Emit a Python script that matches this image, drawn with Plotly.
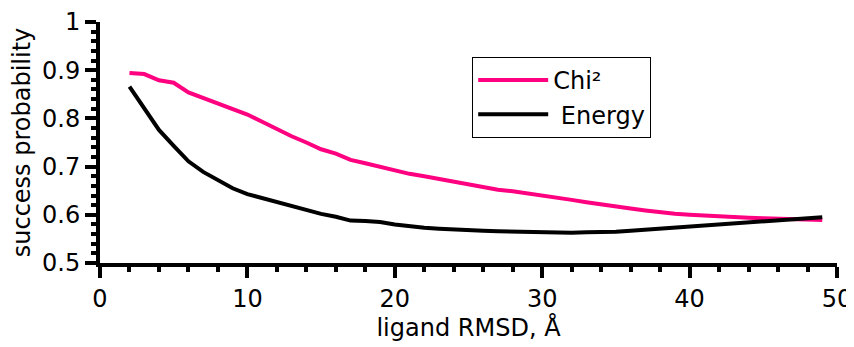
import plotly.graph_objects as go

rmsd = list(range(2, 50))
chi2 = [0.894, 0.892, 0.879, 0.874, 0.854, 0.842, 0.832, 0.819, 0.808, 0.793,
        0.777, 0.763, 0.750, 0.736, 0.727, 0.714, 0.707, 0.700, 0.691, 0.685,
        0.680, 0.674, 0.668, 0.662, 0.656, 0.652, 0.649, 0.645, 0.641, 0.636,
        0.631, 0.626, 0.621, 0.617, 0.613, 0.609, 0.605, 0.602, 0.600, 0.598,
        0.596, 0.595, 0.594, 0.593, 0.592, 0.591, 0.590, 0.589]
energy = [0.866, 0.822, 0.776, 0.743, 0.711, 0.689, 0.671, 0.655, 0.643, 0.635,
          0.626, 0.617, 0.610, 0.602, 0.596, 0.588, 0.587, 0.585, 0.580, 0.576,
          0.573, 0.571, 0.569, 0.568, 0.567, 0.566, 0.565, 0.565, 0.564, 0.564,
          0.563, 0.564, 0.564, 0.565, 0.567, 0.569, 0.571, 0.573, 0.576, 0.578,
          0.581, 0.583, 0.585, 0.587, 0.589, 0.591, 0.593, 0.595]

x_ticks = [0, 10, 20, 30, 40, 50]
y_ticks = [0.5, 0.6, 0.7, 0.8, 0.9, 1.0]
y_tick_labels = ["0.5", "0.6", "0.7", "0.8", "0.9", "1"]

FONT = "DejaVu Sans"

fig = go.Figure()
fig.add_trace(go.Scatter(x=rmsd, y=chi2, mode="lines", name="Chi²",
                         line=dict(color="#ff0080", width=4)))
fig.add_trace(go.Scatter(x=rmsd, y=energy, mode="lines", name=" Energy",
                         line=dict(color="black", width=4)))

axis_common = dict(showline=True, linecolor="black", linewidth=4, ticks="outside",
                   tickwidth=4, ticklen=11, tickcolor="black", showgrid=False,
                   zeroline=False, mirror=False, automargin=False,
                   ticklabeloverflow="allow",
                   tickfont=dict(family=FONT, size=24, color="black"))

fig.update_xaxes(range=[0, 50], tickvals=x_ticks,
                 minor=dict(dtick=2, ticks="outside", ticklen=5, tickwidth=4, tickcolor="black"),
                 title=dict(text="ligand RMSD, Å", font=dict(family=FONT, size=24, color="black"),
                            standoff=8),
                 **axis_common)
fig.update_yaxes(range=[0.5, 1.0], tickvals=y_ticks, ticktext=y_tick_labels,
                 minor=dict(dtick=0.02, ticks="outside", ticklen=5, tickwidth=4, tickcolor="black"),
                 title=dict(text="success probability", font=dict(family=FONT, size=24, color="black"),
                            standoff=6),
                 **axis_common)

# the page body adds an 8px offset, so the figure is sized to fill the rest of the window
fig.update_layout(
    width=846, height=339,
    margin=dict(l=92, r=17, t=14, b=84),
    paper_bgcolor="white", plot_bgcolor="white",
    font=dict(family=FONT, color="black"),
    showlegend=True,
    legend=dict(x=0.505, y=0.855, xanchor="left", yanchor="top",
                bordercolor="black", borderwidth=1, bgcolor="white",
                font=dict(family=FONT, size=24, color="black"),
                entrywidth=205, itemwidth=70, tracegroupgap=0),
)

fig.write_html("out.html")
